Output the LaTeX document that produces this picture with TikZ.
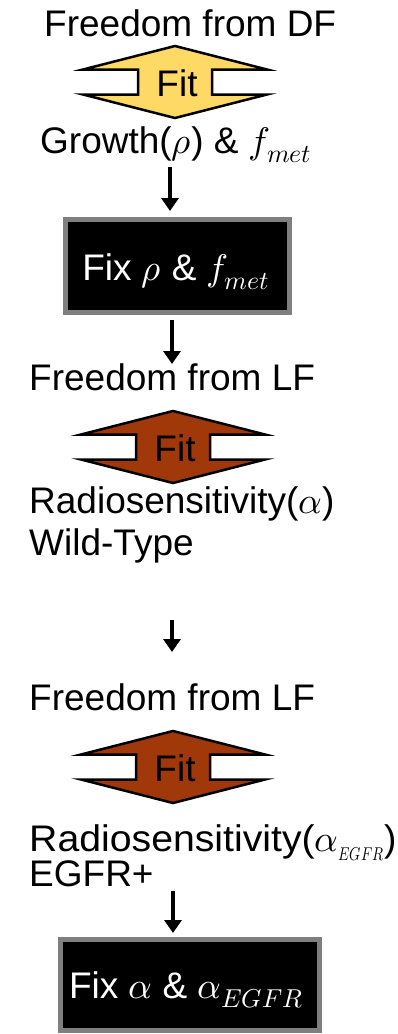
\documentclass[tikz,border=0pt]{standalone}
\usepackage{fontspec}
\usepackage{unicode-math}
\setmainfont{Liberation Sans}
\setmathfont{Latin Modern Math}
\usetikzlibrary{arrows.meta}
\definecolor{fityellow}{HTML}{FFD966}
\definecolor{fitbrown}{HTML}{A0380A}
\definecolor{boxrim}{HTML}{7F7F7F}
\tikzset{
  lbl/.style={inner sep=0pt, font=\fontsize{37}{44}\selectfont, text=black},
  fittext/.style={lbl, anchor=base},
  badge/.style={draw=black, line width=2.5pt, line join=miter},
  fixbox/.style={draw=boxrim, fill=black, line width=5pt, inner sep=0pt},
  fixtext/.style={lbl, text=white, anchor=base},
  flow/.style={line width=3.2pt, -{Triangle[width=17pt,length=13pt]}},
}
% Fit badge: notched diamond with a "Fit" label; args: name, x, y, fill
\newcommand\FitBadge[4]{%
  \draw[badge, fill=#4] (#2,#3-36) -- ++(92,23.5) -- ++(-55,0) -- ++(0,25)
    -- ++(55,0) -- (#2,#3+36) -- ++(-92,-23.5) -- ++(55,0) -- ++(0,-25)
    -- ++(-55,0) -- cycle;
  \node[fittext] (#1) at (#2+2,#3+14) {Fit};}
\begin{document}
\begin{tikzpicture}[x=1pt,y=-1pt]
\useasboundingbox (0,0) rectangle (398,1034);

% stage 1: growth fit
\node[lbl, anchor=base west] (dfhead) at (44,36) {Freedom from DF};
\FitBadge{fitA}{175}{82}{fityellow}
\node[lbl, anchor=base west] (growth) at (40,153) {Growth($\rho$) \& $f_{met}$};

\node[fixbox, minimum width=224pt, minimum height=93pt] (fixA) at (177.5,266) {};
\node[fixtext] (fixAtxt) at (176,280) {Fix $\rho$ \& $f_{met}$};

% stage 2: wild-type radiosensitivity
\node[lbl, anchor=base west] (lfheadA) at (29,390) {Freedom from LF};
\FitBadge{fitB}{173}{447}{fitbrown}
\node[lbl, anchor=base west] (radioA) at (29,513) {Radiosensitivity($\alpha$)};
\node[lbl, anchor=base west] (wild) at (29,555) {Wild-Type};

% stage 3: EGFR+ radiosensitivity
\node[lbl, anchor=base west] (lfheadB) at (29,710) {Freedom from LF};
\FitBadge{fitC}{173}{767}{fitbrown}
\node[lbl, anchor=base west] (radioB) at (29,851)
  {\scalebox{1.06}[1]{Radiosensitivity(}$\alpha_{\scalebox{0.78}[1]{$\scriptscriptstyle EGFR$}}$)};
\node[lbl, anchor=base west] (egfr) at (29,886) {EGFR+};

\node[fixbox, minimum width=259pt, minimum height=91pt] (fixB) at (190,985) {};
\node[fixtext] (fixBtxt) at (186,998) {Fix $\alpha$ \& $\alpha_{EGFR}$};

% connectors
\coordinate (a1s) at (170,167);  \coordinate (a1e) at (170,211);
\coordinate (a2s) at (172,320);  \coordinate (a2e) at (172,364);
\coordinate (a3s) at (172,620);  \coordinate (a3e) at (172,652);
\coordinate (a4s) at (173,891);  \coordinate (a4e) at (173,933);
\draw[flow] (a1s) -- (a1e);
\draw[flow] (a2s) -- (a2e);
\draw[flow] (a3s) -- (a3e);
\draw[flow] (a4s) -- (a4e);
\end{tikzpicture}
\end{document}
